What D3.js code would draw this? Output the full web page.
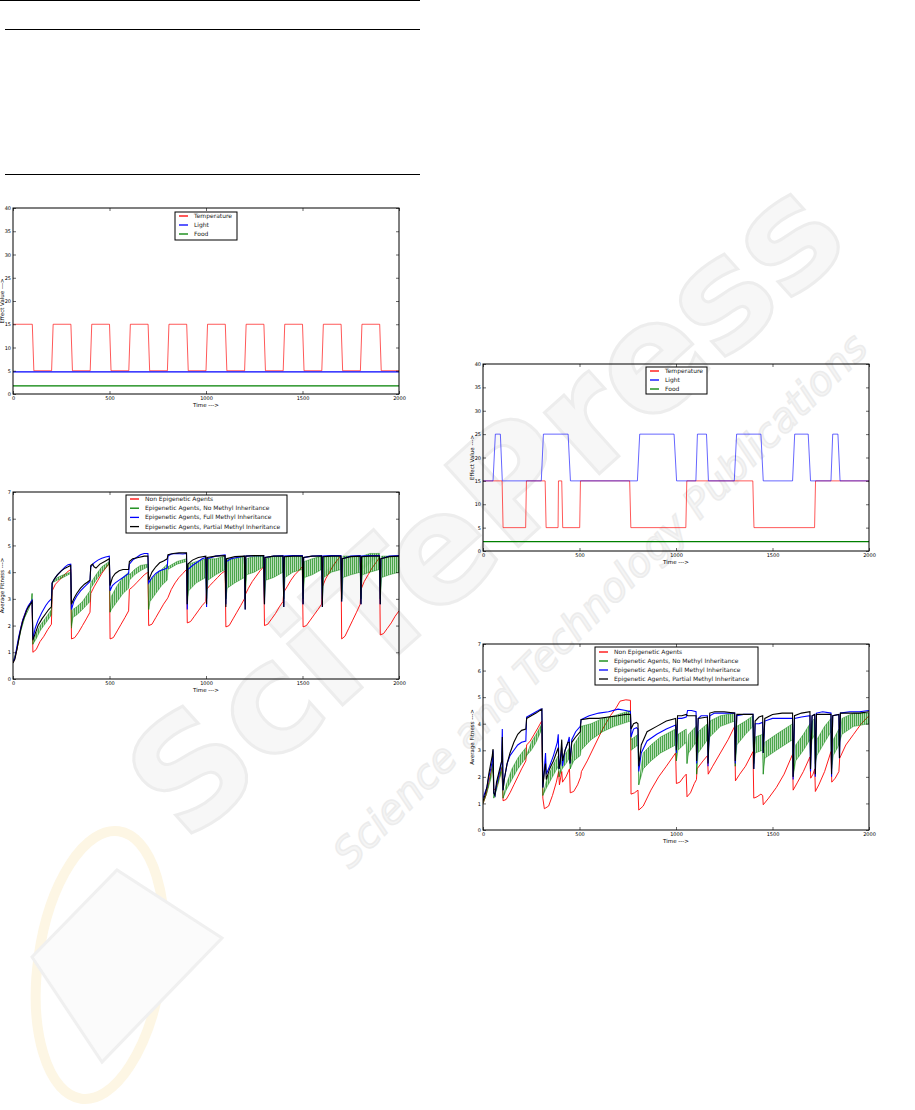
<!DOCTYPE html>
<html><head><meta charset="utf-8">
<script src="https://cdn.jsdelivr.net/npm/d3@7"></script>
<style>body{margin:0;background:#fff}svg{display:block}text{font-family:"DejaVu Sans",sans-serif}</style>
</head><body><svg id="c" width="915" height="1110"></svg>
<script>
// ---------- DATA ----------
const xTicks = [0, 500, 1000, 1500, 2000];
const effectTicks = [0, 5, 10, 15, 20, 25, 30, 35, 40];
const fitnessTicks = [0, 1, 2, 3, 4, 5, 6, 7];
const envLegend = ["Temperature", "Light", "Food"];
const fitLegend = ["Non Epigenetic Agents", "Epigenetic Agents, No Methyl Inheritance",
  "Epigenetic Agents, Full Methyl Inheritance", "Epigenetic Agents, Partial Methyl Inheritance"];

// Environment A (top-left)
const envA_temp = [[0,15],[100,15],[108,5],[200,5],[208,15],[300,15],[308,5],[400,5],[408,15],[500,15],[508,5],[600,5],[608,15],[700,15],[708,5],[800,5],[808,15],[900,15],[908,5],[1000,5],[1008,15],[1100,15],[1108,5],[1200,5],[1208,15],[1300,15],[1308,5],[1400,5],[1408,15],[1500,15],[1508,5],[1600,5],[1608,15],[1700,15],[1708,5],[1800,5],[1808,15],[1900,15],[1908,5],[2000,5]];
const envA_light = [[0,4.75],[2000,4.75]];
const envA_food = [[0,1.75],[2000,1.75]];

// Environment B (top-right)
const envB_temp = [[0,15],[99,15],[104,5],[221,5],[225,15],[322,15],[327,5],[389,5],[391,15],[408,15],[413,5],[501,5],[505,15],[760,15],[766,5],[1051,5],[1056,15],[1398,15],[1404,5],[1718,5],[1723,15],[2000,15]];
const envB_light = [[0,15],[52,15],[64,25],[90,25],[100,15],[302,15],[313,25],[441,25],[453,15],[800,15],[812,25],[990,25],[1003,15],[1103,15],[1111,25],[1158,25],[1168,15],[1302,15],[1314,25],[1440,25],[1452,15],[1604,15],[1615,25],[1685,25],[1697,15],[1803,15],[1812,25],[1839,25],[1850,15],[2000,15]];
const envB_food = [[0,2],[2000,2]];

// Fitness A (bottom-left)
const fitA_non = [[0,0.6],[10,0.8],[20,1.1],[30,1.5],[40,1.9],[50,2.2],[60,2.4],[70,2.6],[80,2.7],[90,2.85],[99,2.95],
[103,1.0],[120,1.1],[140,1.4],[160,1.6],[180,1.85],[199,2.05],
[203,3.3],[220,3.55],[240,3.7],[260,3.85],[280,4.0],[299,4.1],
[303,1.5],[320,1.55],[340,1.75],[360,2.0],[380,2.25],[399,2.5],
[403,3.2],[420,3.45],[440,3.7],[460,3.95],[480,4.15],[499,4.35],
[503,1.5],[520,1.55],[540,1.8],[560,2.05],[580,2.3],[599,2.55],
[603,3.35],[620,3.45],[640,3.6],[660,3.75],[680,3.9],[699,4.0],
[703,2.0],[720,2.05],[740,2.3],[760,2.55],[780,2.8],[799,3.0],
[803,3.05],[820,3.35],[840,3.6],[860,3.8],[880,3.95],[899,4.1],
[903,2.1],[920,2.15],[940,2.35],[960,2.55],[980,2.75],[999,2.9],
[1003,3.35],[1020,3.5],[1040,3.65],[1060,3.8],[1080,3.95],[1099,4.05],
[1103,1.95],[1120,2.0],[1140,2.25],[1160,2.5],[1180,2.75],[1199,3.0],
[1203,3.15],[1220,3.4],[1240,3.65],[1260,3.85],[1280,4.05],[1299,4.2],
[1303,2.0],[1320,2.05],[1340,2.25],[1360,2.45],[1380,2.7],[1399,2.9],
[1403,3.25],[1420,3.45],[1440,3.7],[1460,3.9],[1480,4.05],[1499,4.2],
[1503,1.95],[1520,2.0],[1540,2.2],[1560,2.4],[1580,2.6],[1599,2.8],
[1603,3.45],[1620,3.75],[1640,4.0],[1660,4.25],[1680,4.45],[1699,4.6],
[1703,1.5],[1720,1.6],[1740,1.9],[1760,2.2],[1780,2.5],[1799,2.8],
[1803,3.35],[1820,3.65],[1840,3.9],[1860,4.15],[1880,4.35],[1899,4.55],
[1903,1.65],[1920,1.7],[1940,1.9],[1960,2.1],[1980,2.35],[2000,2.55]];
const fitA_none = [[0,0.65,0.65],[20,1.1,1.1],[40,1.8,1.8],[60,2.3,2.3],[80,2.6,2.6],[95,2.9,2.9],[99,3.2,3.2],
[103,1.3,1.3],[120,1.5,1.7],[140,1.8,2.0],[160,2.0,2.2],[180,2.2,2.4],[199,2.4,2.6],
[203,3.6,3.6],[230,3.7,3.8],[260,3.8,3.9],[299,3.95,4.0],
[303,1.9,2.0],[310,2.3,2.6],[330,2.4,2.7],[360,2.6,2.9],[399,2.9,3.3],
[403,3.4,3.6],[430,3.7,3.9],[460,4.0,4.2],[499,4.3,4.4],
[503,2.5,2.5],[510,2.6,3.1],[540,2.9,3.5],[570,3.2,3.8],[599,3.4,4.0],
[603,3.7,3.9],[630,3.9,4.1],[660,4.05,4.25],[699,4.2,4.3],
[703,2.6,2.6],[710,2.9,3.7],[740,3.2,3.9],[770,3.5,4.1],[799,3.7,4.3],
[803,4.1,4.2],[850,4.3,4.4],[899,4.4,4.5],
[903,2.8,2.8],[910,3.3,4.3],[950,3.6,4.4],[999,3.8,4.5],
[1003,3.0,3.0],[1010,3.7,4.5],[1050,3.9,4.5],[1099,4.1,4.6],
[1103,3.0,3.0],[1110,3.4,4.5],[1150,3.6,4.5],[1199,3.8,4.6],
[1203,3.0,3.0],[1210,3.9,4.5],[1250,4.0,4.6],[1299,4.2,4.6],
[1303,3.0,3.0],[1310,3.7,4.5],[1350,3.8,4.6],[1399,4.0,4.6],
[1403,3.0,3.0],[1410,3.8,4.6],[1450,4.0,4.6],[1499,4.1,4.6],
[1503,3.0,3.0],[1510,3.8,4.4],[1550,3.9,4.5],[1599,4.1,4.6],
[1603,3.0,3.0],[1610,3.8,4.6],[1650,4.0,4.6],[1699,4.1,4.6],
[1703,3.0,3.0],[1710,3.8,4.6],[1750,3.9,4.6],[1799,4.0,4.6],
[1803,3.0,3.0],[1810,3.9,4.6],[1850,4.0,4.7],[1899,4.1,4.7],
[1903,3.0,3.0],[1910,3.8,4.6],[1950,3.9,4.6],[2000,4.0,4.6]];
const fitA_full = [[0,0.65],[10,0.8],[20,1.2],[30,1.6],[40,1.9],[50,2.2],[60,2.4],[70,2.6],[80,2.75],[90,2.85],[99,2.95],
[103,1.5],[115,1.9],[130,2.2],[150,2.5],[170,2.75],[185,2.9],[199,3.0],
[203,3.6],[215,3.75],[230,3.9],[250,4.05],[270,4.2],[285,4.28],[299,4.3],
[303,2.6],[315,2.9],[330,3.1],[350,3.3],[370,3.45],[385,3.55],[399,3.65],
[403,4.2],[420,4.35],[440,4.45],[460,4.52],[480,4.57],[499,4.6],
[503,3.3],[515,3.5],[530,3.6],[550,3.7],[570,3.8],[599,3.95],
[603,4.3],[620,4.45],[640,4.55],[660,4.65],[680,4.7],[699,4.7],
[703,3.6],[720,3.8],[740,3.95],[760,4.05],[780,4.1],[799,4.15],
[803,4.6],[820,4.68],[850,4.7],[880,4.68],[899,4.7],
[903,2.6],[906,4.1],[930,4.25],[960,4.4],[980,4.5],[999,4.55],
[1003,2.7],[1006,4.5],[1050,4.6],[1099,4.65],
[1103,2.8],[1106,4.4],[1130,4.5],[1160,4.55],[1199,4.6],
[1203,2.6],[1206,4.6],[1250,4.62],[1299,4.62],
[1303,2.8],[1306,4.55],[1350,4.6],[1399,4.62],
[1403,2.7],[1406,4.6],[1450,4.62],[1499,4.62],
[1503,2.8],[1506,4.55],[1550,4.6],[1599,4.62],
[1603,2.7],[1606,4.6],[1650,4.62],[1699,4.62],
[1703,2.9],[1706,4.5],[1750,4.6],[1799,4.62],
[1803,2.8],[1806,4.6],[1850,4.62],[1899,4.62],
[1903,2.8],[1906,4.5],[1950,4.6],[2000,4.62]];
const fitA_partial = [[0,0.6],[10,0.75],[20,1.1],[30,1.5],[40,1.85],[50,2.15],[60,2.35],[70,2.55],[80,2.7],[90,2.8],[99,2.9],
[103,1.45],[115,1.7],[130,2.0],[150,2.25],[170,2.45],[185,2.6],[199,2.7],
[203,3.6],[215,3.75],[230,3.9],[250,4.05],[270,4.15],[285,4.2],[299,4.25],
[303,2.8],[315,3.0],[330,3.2],[350,3.4],[370,3.55],[385,3.62],[399,3.7],
[403,4.25],[412,4.3],[420,4.2],[430,4.15],[450,4.3],[475,4.4],[499,4.5],
[503,3.5],[515,3.8],[530,3.95],[550,4.05],[570,4.1],[599,4.1],
[603,4.4],[620,4.5],[650,4.55],[680,4.6],[699,4.6],
[703,3.7],[720,4.0],[740,4.2],[760,4.35],[780,4.42],[799,4.5],
[803,4.65],[830,4.7],[860,4.72],[899,4.72],
[903,2.8],[906,4.3],[930,4.45],[960,4.55],[999,4.6],
[1003,2.8],[1006,4.55],[1050,4.6],[1099,4.62],
[1103,2.7],[1106,4.5],[1150,4.58],[1199,4.6],
[1203,2.6],[1206,4.6],[1250,4.62],[1299,4.62],
[1303,2.8],[1306,4.55],[1350,4.6],[1399,4.6],
[1403,2.7],[1406,4.58],[1450,4.6],[1499,4.6],
[1503,2.8],[1506,4.55],[1550,4.6],[1599,4.6],
[1603,2.7],[1606,4.58],[1650,4.6],[1699,4.6],
[1703,2.9],[1706,4.5],[1750,4.58],[1799,4.6],
[1803,2.8],[1806,4.58],[1850,4.6],[1899,4.6],
[1903,2.8],[1906,4.5],[1950,4.58],[2000,4.6]];

// Fitness B (bottom-right)
const fitB_non = [[0,1.0],[15,1.3],[30,1.8],[45,2.3],[52,2.5],[56,1.5],[70,1.6],[85,2.0],[98,2.35],
[104,1.1],[120,1.15],[140,1.4],[160,1.7],[180,2.0],[200,2.3],[222,2.6],
[226,3.2],[245,3.35],[265,3.6],[285,3.85],[304,4.1],
[310,1.2],[318,0.8],[340,0.9],[360,1.3],[380,1.8],[392,2.2],
[396,1.7],[408,2.2],[412,1.8],[430,2.0],[448,2.3],
[452,1.4],[470,1.45],[490,1.7],[506,2.0],
[510,2.2],[540,2.6],[580,3.2],[620,3.8],[660,4.3],[690,4.6],[710,4.85],[740,4.9],[764,4.88],
[767,1.35],[785,1.4],[803,1.5],
[807,0.75],[830,0.9],[870,1.5],[910,2.0],[950,2.4],[998,2.9],
[1002,1.75],[1020,1.8],[1040,2.0],[1053,2.1],
[1057,1.25],[1075,1.4],[1095,1.75],[1106,1.9],
[1109,2.3],[1140,2.6],[1163,2.8],
[1167,2.1],[1190,2.4],[1230,2.9],[1270,3.4],[1304,3.9],
[1308,1.85],[1330,2.1],[1360,2.4],[1399,2.95],
[1403,1.2],[1420,1.25],[1440,1.35],[1449,1.3],
[1452,0.95],[1480,1.2],[1520,1.6],[1560,2.1],[1604,2.85],
[1607,1.5],[1630,1.8],[1660,2.2],[1694,2.75],
[1698,1.95],[1710,2.1],[1719,2.3],
[1722,1.45],[1740,1.7],[1770,2.2],[1803,2.95],
[1807,1.8],[1825,1.95],[1844,2.2],
[1848,2.7],[1880,3.2],[1920,3.6],[1960,4.0],[2000,4.3]];
const fitB_none = [[0,1.0,1.0],[20,1.4,1.4],[40,1.9,2.1],[52,2.3,2.6],[56,1.2,1.2],[70,1.5,1.7],[85,1.9,2.1],[98,2.2,2.4],[104,1.2,1.2],
[120,1.5,1.7],[150,1.9,2.3],[180,2.3,2.7],[200,2.5,2.9],[222,2.7,3.1],
[226,2.8,2.8],[250,3.0,3.3],[275,3.3,3.6],[305,3.8,4.0],
[310,1.3,1.3],[330,1.6,1.9],[360,2.0,2.4],[390,2.4,2.8],[394,2.0,2.0],[410,2.3,2.7],[430,2.5,2.9],[448,2.7,3.1],
[452,2.3,2.3],[470,2.6,3.2],[504,2.8,3.6],[508,3.0,3.9],[560,3.4,4.0],[620,3.7,4.2],[680,3.9,4.3],[764,4.1,4.5],
[767,3.0,3.4],[785,3.1,3.5],[803,3.2,3.6],
[807,1.7,1.7],[830,2.3,2.9],[870,2.6,3.2],[920,2.9,3.5],[998,3.2,3.8],
[1002,2.6,2.6],[1010,3.0,3.6],[1053,3.3,3.8],
[1057,2.5,2.5],[1065,2.9,3.6],[1104,3.3,3.9],
[1107,2.1,2.1],[1115,2.9,3.7],[1163,3.4,4.0],
[1166,3.0,3.0],[1175,3.5,4.1],[1230,3.9,4.3],[1304,4.1,4.4],
[1307,2.4,2.4],[1315,3.2,3.9],[1360,3.6,4.1],[1399,3.9,4.3],
[1403,2.5,2.5],[1410,2.9,3.5],[1449,3.0,3.6],
[1452,2.1,2.1],[1460,2.7,3.3],[1520,3.0,3.6],[1604,3.4,4.0],
[1607,2.0,2.0],[1620,2.6,3.2],[1660,3.0,3.6],[1694,3.4,4.0],
[1697,2.8,2.8],[1705,3.4,4.1],[1719,3.6,4.2],
[1722,2.5,2.5],[1730,2.8,3.4],[1770,3.3,3.9],[1803,3.7,4.2],
[1806,2.3,2.3],[1815,2.8,3.4],[1844,3.2,3.8],
[1847,3.3,3.3],[1860,3.6,4.2],[1920,3.9,4.4],[2000,4.0,4.4]];
const fitB_full = [[0,1.2],[10,1.4],[20,1.6],[30,2.0],[40,2.3],[48,2.6],[52,3.0],[56,1.4],[62,1.3],[70,1.7],[80,2.0],[90,2.3],[97,2.6],[100,3.8],[104,1.5],
[110,1.9],[125,2.5],[140,2.8],[160,3.0],[180,3.2],[200,3.3],[222,3.35],
[226,4.25],[250,4.35],[275,4.45],[300,4.55],[305,4.55],
[310,1.6],[318,2.3],[324,2.9],[328,2.1],[345,2.4],[365,2.8],[385,3.3],[390,3.6],[394,2.3],[400,2.6],[408,3.1],[412,2.4],[425,3.0],[440,3.3],[447,3.5],[451,2.5],[460,3.4],[480,3.7],[504,3.9],
[508,4.15],[550,4.3],[600,4.4],[650,4.45],[700,4.55],[740,4.5],[764,4.45],
[767,3.5],[780,3.8],[795,3.85],[803,3.8],
[807,2.2],[820,2.9],[850,3.35],[900,3.6],[950,3.8],[998,3.95],
[1002,2.9],[1008,4.2],[1030,4.2],[1053,4.25],[1060,4.5],[1080,4.5],[1104,4.45],
[1107,2.5],[1115,4.2],[1130,4.3],[1163,4.3],
[1166,2.4],[1175,4.3],[1200,4.4],[1250,4.4],[1304,4.4],
[1307,2.5],[1315,4.3],[1350,4.35],[1399,4.35],
[1403,2.3],[1410,4.0],[1430,4.0],[1449,4.05],
[1452,2.9],[1460,4.1],[1500,4.2],[1550,4.2],[1604,4.2],
[1607,1.9],[1614,4.2],[1650,4.25],[1694,4.3],
[1697,2.2],[1705,4.3],[1719,4.35],
[1722,2.0],[1728,4.4],[1760,4.45],[1803,4.4],
[1806,2.0],[1812,4.3],[1844,4.35],
[1847,2.7],[1852,4.4],[1900,4.45],[1950,4.45],[2000,4.5]];
const fitB_partial = [[0,1.1],[10,1.3],[20,1.6],[30,2.1],[40,2.5],[48,2.8],[52,3.05],[56,1.4],[62,1.3],[70,1.8],[80,2.1],[90,2.4],[97,2.6],[100,3.5],[104,1.5],
[110,1.9],[125,2.5],[140,2.9],[160,3.3],[180,3.6],[200,3.75],[222,3.8],
[226,4.2],[250,4.3],[275,4.4],[305,4.55],
[310,1.6],[318,2.2],[324,2.5],[328,1.9],[345,2.3],[365,2.6],[385,3.0],[390,3.1],[394,2.3],[400,2.5],[408,3.4],[412,2.6],[425,3.0],[440,3.3],[447,3.3],[451,2.5],[460,3.3],[480,3.5],[504,3.7],
[508,4.15],[550,4.2],[600,4.2],[650,4.25],[700,4.3],[740,4.35],[764,4.35],
[767,3.8],[780,4.0],[795,4.05],[803,4.0],
[807,2.4],[820,3.2],[850,3.7],[900,3.9],[950,4.1],[998,4.2],
[1002,3.0],[1008,4.3],[1030,4.3],[1053,4.35],[1060,4.3],[1080,4.3],[1104,4.3],
[1107,2.6],[1115,4.2],[1163,4.25],
[1166,2.5],[1175,4.4],[1200,4.45],[1250,4.45],[1304,4.4],
[1307,2.6],[1315,4.35],[1350,4.35],[1399,4.35],
[1403,2.3],[1410,4.1],[1430,4.25],[1449,4.3],
[1452,2.9],[1460,4.2],[1500,4.35],[1550,4.4],[1604,4.4],
[1607,2.0],[1614,4.3],[1650,4.4],[1694,4.45],
[1697,2.3],[1705,4.3],[1719,4.35],
[1722,2.1],[1728,4.35],[1760,4.35],[1803,4.35],
[1806,2.1],[1812,4.3],[1844,4.35],
[1847,2.7],[1852,4.4],[1900,4.4],[1950,4.4],[2000,4.45]];

// ---------- DRAW ----------
const svg = d3.select("#c");
const defs = svg.append("defs");
const pat = defs.append("pattern").attr("id", "spikes").attr("patternUnits", "userSpaceOnUse")
  .attr("width", 2).attr("height", 4);
pat.append("rect").attr("width", 2).attr("height", 4).attr("fill", "#008000").attr("fill-opacity", 0.28);
pat.append("rect").attr("width", 0.7).attr("height", 4).attr("fill", "#008000").attr("fill-opacity", 0.85);

// watermark (faint, behind everything)
const wm = svg.append("g");
wm.append("ellipse").attr("cx", 100).attr("cy", 965).attr("rx", 62).attr("ry", 135)
  .attr("transform", "rotate(8,100,965)")
  .attr("fill", "none").attr("stroke", "#fdf6e4").attr("stroke-width", 10);
wm.append("polygon").attr("points", "32,957 117,870 222,938 102,1062")
  .attr("fill", "#fbfbfb").attr("stroke", "#f0f0f0").attr("stroke-width", 3);
wm.append("text").attr("transform", "translate(520,545) rotate(-42)")
  .attr("text-anchor", "middle").attr("font-family", "Liberation Sans, sans-serif")
  .attr("font-weight", "bold").attr("font-size", 150)
  .attr("fill", "#f7f7f7").attr("stroke", "#ededed").attr("stroke-width", 3)
  .text("SciTePress");
wm.append("text").attr("transform", "translate(610,610) rotate(-45)")
  .attr("text-anchor", "middle").attr("font-family", "Liberation Sans, sans-serif")
  .attr("font-style", "italic").attr("font-size", 40)
  .attr("fill", "#f5f5f5").attr("stroke", "#ececec").attr("stroke-width", 1.5)
  .text("Science and Technology Publications");

// top-left table rules
[[0,0.5],[5,29.5],[5,174.5]].forEach(([x0,yy]) => {
  svg.append("line").attr("x1", x0).attr("x2", 420).attr("y1", yy).attr("y2", yy)
    .attr("stroke", "#000").attr("stroke-width", 1);
});

function chart(box, yMax, yTicks, yLabel, legend, series) {
  const x = d3.scaleLinear().domain([0, 2000]).range([box.x0, box.x1]);
  const y = d3.scaleLinear().domain([0, yMax]).range([box.y1, box.y0]);
  const g = svg.append("g");
  const line = d3.line().x(d => x(d[0])).y(d => y(d[1]));
  const area = d3.area().x(d => x(d[0])).y0(d => y(d[1])).y1(d => y(d[2]));
  const clipId = "clip" + Math.round(box.y0);
  g.append("clipPath").attr("id", clipId).append("rect")
    .attr("x", box.x0).attr("y", box.y0).attr("width", box.x1 - box.x0).attr("height", box.y1 - box.y0);
  const pg = g.append("g").attr("clip-path", `url(#${clipId})`);
  series.forEach(s => {
    if (s.band) {
      pg.append("path").datum(s.data).attr("d", area)
        .attr("fill", "url(#spikes)")
        .attr("stroke", s.color).attr("stroke-width", 0.6).attr("stroke-opacity", 0.7);
    } else {
      pg.append("path").datum(s.data).attr("d", line).attr("fill", "none")
        .attr("stroke", s.color).attr("stroke-width", s.w || 1).attr("stroke-opacity", s.op || 1);
    }
  });
  // frame
  g.append("rect").attr("x", box.x0).attr("y", box.y0)
    .attr("width", box.x1 - box.x0).attr("height", box.y1 - box.y0)
    .attr("fill", "none").attr("stroke", "#000").attr("stroke-width", 1);
  // inward ticks
  const axL = d3.axisLeft(y).tickValues(yTicks).tickSize(-3).tickFormat(d => d);
  const axR = d3.axisRight(y).tickValues(yTicks).tickSize(-3).tickFormat("");
  const axB = d3.axisBottom(x).tickValues(xTicks).tickSize(-3).tickFormat(d => d);
  const axT = d3.axisTop(x).tickValues(xTicks).tickSize(-3).tickFormat("");
  const styleAx = (sel) => {
    sel.select(".domain").remove();
    sel.selectAll(".tick line").attr("stroke", "#000").attr("stroke-width", 0.6);
    sel.selectAll(".tick text").attr("font-size", 5).attr("fill", "#000")
      .attr("font-family", "DejaVu Sans, sans-serif");
  };
  g.append("g").attr("transform", `translate(${box.x0},0)`).call(axL).call(styleAx)
    .selectAll(".tick text").attr("x", -2);
  g.append("g").attr("transform", `translate(${box.x1},0)`).call(axR).call(styleAx);
  g.append("g").attr("transform", `translate(0,${box.y1})`).call(axB).call(styleAx)
    .selectAll(".tick text").attr("y", 2);
  g.append("g").attr("transform", `translate(0,${box.y0})`).call(axT).call(styleAx);
  // axis titles
  g.append("text").attr("x", (box.x0 + box.x1) / 2).attr("y", box.y1 + 13)
    .attr("text-anchor", "middle").attr("font-size", 5.5).text("Time --->");
  g.append("text").attr("transform", `translate(${box.x0 - 9},${(box.y0 + box.y1) / 2}) rotate(-90)`)
    .attr("text-anchor", "middle").attr("font-size", 5.5).text(yLabel);
  // legend
  const L = legend;
  g.append("rect").attr("x", L.x).attr("y", L.y).attr("width", L.w).attr("height", L.h)
    .attr("fill", "#fff").attr("stroke", "#000").attr("stroke-width", 1);
  L.items.forEach((it, i) => {
    const yy = L.y + L.first + i * L.step;
    g.append("line").attr("x1", L.x + 4).attr("x2", L.x + 13).attr("y1", yy).attr("y2", yy)
      .attr("stroke", it.color).attr("stroke-width", 1.3);
    g.append("text").attr("x", L.x + 19).attr("y", yy + 2).attr("font-size", 6)
      .attr("fill", "#222").text(it.label);
  });
}

const envColors = ["#ff0000", "#0000ff", "#008000"];
const fitColors = ["#ff0000", "#008000", "#0000ff", "#000000"];

chart({x0: 13, x1: 399, y0: 208, y1: 394}, 40, effectTicks, "Effect Value --->",
  {x: 175, y: 212, w: 62, h: 28, first: 4, step: 9,
   items: envLegend.map((l, i) => ({label: l, color: envColors[i]}))},
  [{data: envA_temp, color: "#ff0000", op: 0.65},
   {data: envA_light, color: "#0000ff", w: 1.2},
   {data: envA_food, color: "#008000", w: 1.2}]);

chart({x0: 13, x1: 399, y0: 492, y1: 679}, 7, fitnessTicks, "Average Fitness --->",
  {x: 126, y: 495, w: 161, h: 38, first: 4, step: 9.2,
   items: fitLegend.map((l, i) => ({label: l, color: fitColors[i]}))},
  [{data: fitA_non, color: "#ff0000", w: 0.9},
   {data: fitA_none, color: "#008000", band: true},
   {data: fitA_full, color: "#0000ff", w: 1.1},
   {data: fitA_partial, color: "#000000", w: 1.1}]);

chart({x0: 483, x1: 869, y0: 364, y1: 551}, 40, effectTicks, "Effect Value --->",
  {x: 646, y: 367, w: 61, h: 27, first: 4, step: 9,
   items: envLegend.map((l, i) => ({label: l, color: envColors[i]}))},
  [{data: envB_temp, color: "#ff0000", op: 0.65},
   {data: envB_light, color: "#0000ff", op: 0.6},
   {data: envB_food, color: "#008000", w: 1.2}]);

chart({x0: 483, x1: 869, y0: 644, y1: 830}, 7, fitnessTicks, "Average Fitness --->",
  {x: 595, y: 647, w: 163, h: 38, first: 5, step: 9,
   items: fitLegend.map((l, i) => ({label: l, color: fitColors[i]}))},
  [{data: fitB_non, color: "#ff0000", w: 0.9},
   {data: fitB_none, color: "#008000", band: true},
   {data: fitB_full, color: "#0000ff", w: 1.1},
   {data: fitB_partial, color: "#000000", w: 1.1}]);
</script></body></html>
